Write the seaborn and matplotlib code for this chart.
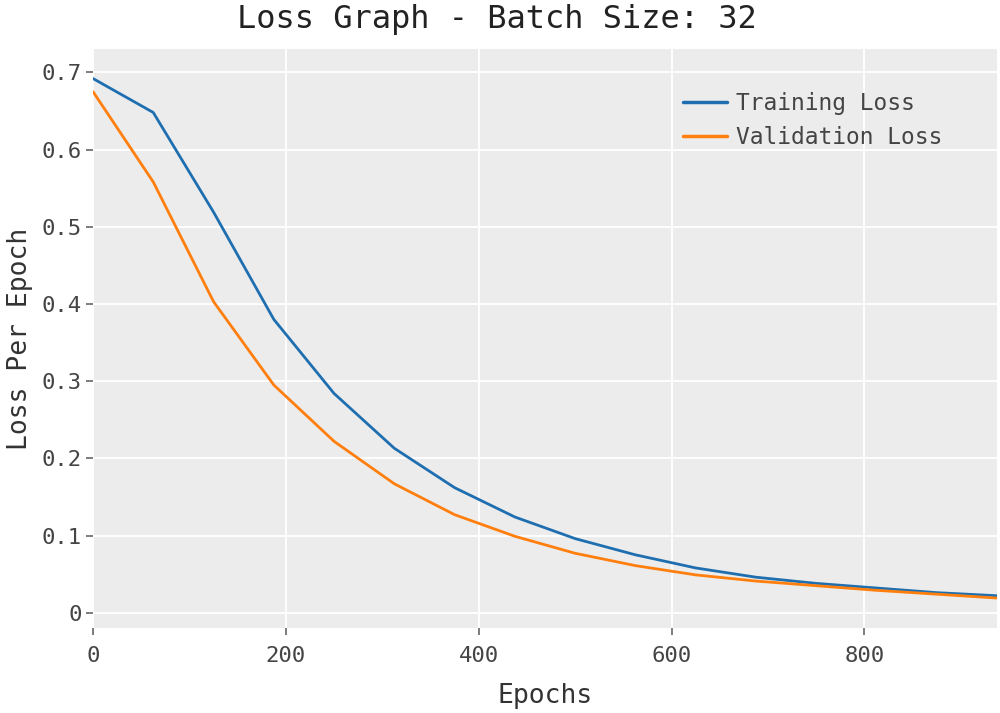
import pandas as pd
import matplotlib
matplotlib.use('Agg')
import matplotlib.pyplot as plt
import seaborn as sns

# Loss values read per epoch checkpoint
epochs = [0, 62.5, 125, 187.5, 250, 312.5, 375, 437.5, 500, 562.5,
          625, 687.5, 750, 812.5, 875, 937.5]
train_loss = [0.692, 0.648, 0.519, 0.380, 0.284, 0.213, 0.162, 0.124,
              0.096, 0.075, 0.058, 0.046, 0.038, 0.032, 0.026, 0.022]
val_loss = [0.675, 0.558, 0.403, 0.295, 0.222, 0.167, 0.127, 0.099,
            0.077, 0.061, 0.049, 0.041, 0.035, 0.029, 0.024, 0.019]
series_names = ['Training Loss', 'Validation Loss']
y_ticks = [0, 0.1, 0.2, 0.3, 0.4, 0.5, 0.6, 0.7]
y_tick_labels = ['0', '0.1', '0.2', '0.3', '0.4', '0.5', '0.6', '0.7']
x_ticks = [0, 200, 400, 600, 800]

df = pd.concat([
    pd.DataFrame({'Epochs': epochs, 'Loss': train_loss, 'Series': series_names[0]}),
    pd.DataFrame({'Epochs': epochs, 'Loss': val_loss, 'Series': series_names[1]}),
])

sns.set_theme(style='darkgrid', rc={
    'axes.facecolor': '#ececec',
    'grid.color': 'white',
    'grid.linewidth': 1.3,
    'axes.edgecolor': '#ececec',
    'xtick.bottom': True,
    'ytick.left': True,
    'xtick.major.size': 5,
    'ytick.major.size': 5,
})
plt.rcParams['font.family'] = ['DejaVu Sans Mono']

fig = plt.figure(figsize=(10, 7.13), dpi=100)
ax = fig.add_axes([0.093, 0.119, 0.904, 0.812])

sns.lineplot(data=df, x='Epochs', y='Loss', hue='Series',
             palette=['#1f6fb0', '#ff7f0e'], linewidth=2.0, ax=ax)

for s in ax.spines.values():
    s.set_visible(False)

ax.set_xlim(0, 937.5)
ax.set_ylim(-0.02, 0.73)
ax.set_xticks(x_ticks)
ax.set_yticks(y_ticks)
ax.set_yticklabels(y_tick_labels)
ax.tick_params(axis='both', which='major', bottom=True, left=True,
               length=5, width=1.2, color='#666666', labelsize=16,
               labelcolor='#444444')
ax.tick_params(axis='y', pad=3)
ax.tick_params(axis='x', pad=8)

ax.set_xlabel('Epochs', fontsize=19, color='#333333', labelpad=12)
ax.set_ylabel('Loss Per Epoch', fontsize=19, color='#333333', labelpad=6)

leg = ax.legend(loc='upper left', bbox_to_anchor=(0.653, 0.926), frameon=False,
                fontsize=16.5, handlelength=1.9, handletextpad=0.4,
                labelspacing=0.5, borderpad=0, borderaxespad=0)
for t in leg.get_texts():
    t.set_color('#444444')
for h in leg.get_lines():
    h.set_linewidth(2.5)

fig.text(0.497, 0.973, 'Loss Graph - Batch Size: 32', ha='center', va='center',
         fontsize=23, color='#222222')

fig.savefig('out.png', dpi=100)
